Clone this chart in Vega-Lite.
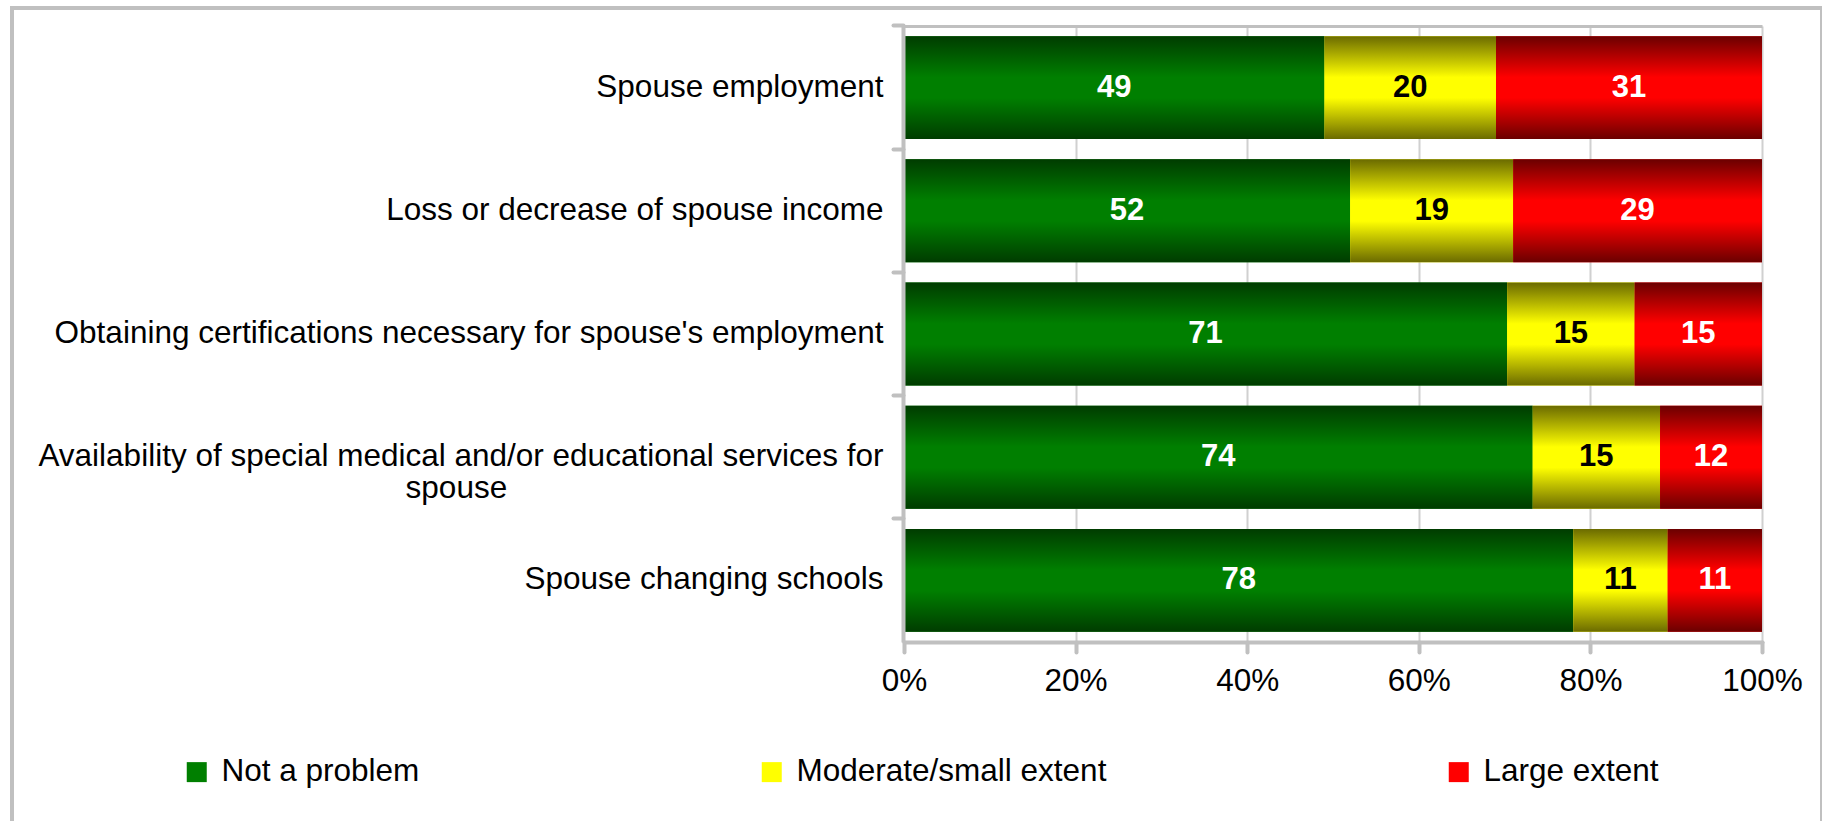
{
  "$schema": "https://vega.github.io/schema/vega-lite/v6.json",
  "width": 1810,
  "height": 830,
  "autosize": {"type": "none"},
  "padding": {"left": 12, "top": 8, "right": 0, "bottom": 0},
  "background": "white",
  "config": {"view": {"stroke": "#c0c0c0", "strokeWidth": 4}, "font": "Liberation Sans"},
  "data": {
    "values": [
      {"item": "Spouse employment", "response": "Not a problem", "value": 49},
      {"item": "Spouse employment", "response": "Moderate/small extent", "value": 20},
      {"item": "Spouse employment", "response": "Large extent", "value": 31},
      {"item": "Loss or decrease of spouse income", "response": "Not a problem", "value": 52},
      {"item": "Loss or decrease of spouse income", "response": "Moderate/small extent", "value": 19},
      {"item": "Loss or decrease of spouse income", "response": "Large extent", "value": 29},
      {"item": "Obtaining certifications necessary for spouse's employment", "response": "Not a problem", "value": 71},
      {"item": "Obtaining certifications necessary for spouse's employment", "response": "Moderate/small extent", "value": 15},
      {"item": "Obtaining certifications necessary for spouse's employment", "response": "Large extent", "value": 15},
      {"item": "Availability of special medical and/or educational services for spouse", "response": "Not a problem", "value": 74},
      {"item": "Availability of special medical and/or educational services for spouse", "response": "Moderate/small extent", "value": 15},
      {"item": "Availability of special medical and/or educational services for spouse", "response": "Large extent", "value": 12},
      {"item": "Spouse changing schools", "response": "Not a problem", "value": 78},
      {"item": "Spouse changing schools", "response": "Moderate/small extent", "value": 11},
      {"item": "Spouse changing schools", "response": "Large extent", "value": 11}
    ]
  },
  "transform": [
    {"stack": "value", "groupby": ["item"], "offset": "normalize", "sort": [{"field": "response", "order": "descending"}], "as": ["x0", "x1"]},
    {"calculate": "(datum.x0 + datum.x1) / 2", "as": "mid"}
  ],
  "layer": [
    {
      "mark": {"type": "bar"},
      "encoding": {
        "y": {
          "field": "item", "type": "nominal",
          "sort": ["Spouse employment", "Loss or decrease of spouse income", "Obtaining certifications necessary for spouse's employment", "Availability of special medical and/or educational services for spouse", "Spouse changing schools"],
          "scale": {"range": [18, 634], "paddingInner": 0.165, "paddingOuter": 0.0825},
          "axis": {
            "orient": "left", "offset": -891, "title": null, "zindex": 1,
            "domain": true, "domainColor": "#c0c0c0", "domainWidth": 4,
            "ticks": false, "tickSize": 0, "grid": false,
            "labelPadding": 20, "labelFontSize": 31.5, "labelFont": "Liberation Sans", "labelColor": "#000000",
            "labelLimit": 1500, "labelLineHeight": 32,
            "labelExpr": "datum.value == 'Availability of special medical and/or educational services for spouse' ? ['Availability of special medical and/or educational services for', 'spouse\u00a0\u00a0\u00a0\u00a0\u00a0\u00a0\u00a0\u00a0\u00a0\u00a0\u00a0\u00a0\u00a0\u00a0\u00a0\u00a0\u00a0\u00a0\u00a0\u00a0\u00a0\u00a0\u00a0\u00a0\u00a0\u00a0\u00a0\u00a0\u00a0\u00a0\u00a0\u00a0\u00a0\u00a0\u00a0\u00a0\u00a0\u00a0\u00a0\u00a0\u00a0\u00a0\u00a0\u200b'] : datum.label"
          }
        },
        "x": {
          "field": "x0", "type": "quantitative",
          "scale": {"domain": [0, 1], "range": [892, 1750], "nice": false},
          "axis": {
            "orient": "bottom", "offset": -196, "title": null, "zindex": 1,
            "values": [0, 0.2, 0.4, 0.6, 0.8, 1], "format": ".0%", "grid": false,
            "domainColor": "#c0c0c0", "domainWidth": 4, "domainCap": "round",
            "tickColor": "#c0c0c0", "tickWidth": 4, "tickSize": 10, "tickCap": "round",
            "labelFontSize": 31.5, "labelFont": "Liberation Sans", "labelColor": "#000000", "labelPadding": 13, "labelFlush": false
          }
        },
        "x2": {"field": "x1"},
        "color": {
          "field": "response", "type": "nominal",
          "scale": {
            "domain": ["Not a problem", "Moderate/small extent", "Large extent"],
            "range": ["#007f00", "#ffff00", "#ff0000"]
          },
          "legend": {
            "orient": "none", "legendX": 169, "legendY": 748, "direction": "horizontal", "title": null,
            "symbolType": "square", "symbolSize": 400, "symbolStrokeWidth": 0,
            "labelFontSize": 31.5, "labelFont": "Liberation Sans", "labelColor": "#000000", "labelOffset": 9,
            "columnPadding": 336, "padding": 0, "labelLimit": 1000
          }
        }
      }
    },
    {
      "mark": {"type": "bar"},
      "encoding": {
        "y": {"field": "item", "type": "nominal", "sort": ["Spouse employment", "Loss or decrease of spouse income", "Obtaining certifications necessary for spouse's employment", "Availability of special medical and/or educational services for spouse", "Spouse changing schools"], "axis": null},
        "x": {"field": "x0", "type": "quantitative", "axis": null},
        "x2": {"field": "x1"},
        "fill": {
          "condition": [
            {"test": "datum.response == 'Not a problem'", "value": {"gradient": "linear", "x1": 0, "y1": 0, "x2": 0, "y2": 1, "stops": [{"offset": 0, "color": "#003c00"}, {"offset": 0.4, "color": "#007f00"}, {"offset": 0.6, "color": "#007f00"}, {"offset": 1, "color": "#003c00"}]}},
            {"test": "datum.response == 'Moderate/small extent'", "value": {"gradient": "linear", "x1": 0, "y1": 0, "x2": 0, "y2": 1, "stops": [{"offset": 0, "color": "#6b6b00"}, {"offset": 0.4, "color": "#ffff00"}, {"offset": 0.6, "color": "#ffff00"}, {"offset": 1, "color": "#6b6b00"}]}}
          ],
          "value": {"gradient": "linear", "x1": 0, "y1": 0, "x2": 0, "y2": 1, "stops": [{"offset": 0, "color": "#6b0000"}, {"offset": 0.4, "color": "#ff0000"}, {"offset": 0.6, "color": "#ff0000"}, {"offset": 1, "color": "#6b0000"}]}
        }
      }
    },
    {
      "mark": {"type": "text", "fontSize": 31, "fontWeight": "bold", "font": "Liberation Sans"},
      "encoding": {
        "y": {
          "field": "item", "type": "nominal",
          "sort": ["Spouse employment", "Loss or decrease of spouse income", "Obtaining certifications necessary for spouse's employment", "Availability of special medical and/or educational services for spouse", "Spouse changing schools"],
          "axis": {
            "orient": "left", "offset": -891, "title": null, "bandPosition": -0.099,
            "labels": false, "domain": false, "grid": false,
            "ticks": true, "tickSize": 10, "tickWidth": 4, "tickColor": "#c0c0c0", "tickCap": "round"
          }
        },
        "x": {
          "field": "mid", "type": "quantitative",
          "axis": {
            "orient": "top", "offset": -18, "title": null, "zindex": 0,
            "values": [0.2, 0.4, 0.6, 0.8, 1],
            "labels": false, "ticks": false,
            "grid": true, "gridColor": "#d0d0d0", "gridWidth": 2,
            "domain": true, "domainColor": "#c0c0c0", "domainWidth": 3
          }
        },
        "text": {"field": "value", "type": "quantitative"},
        "color": {"condition": {"test": "datum.response == 'Moderate/small extent'", "value": "#000000"}, "value": "#ffffff"}
      }
    }
  ],
  "resolve": {"axis": {"x": "independent", "y": "independent"}}
}
